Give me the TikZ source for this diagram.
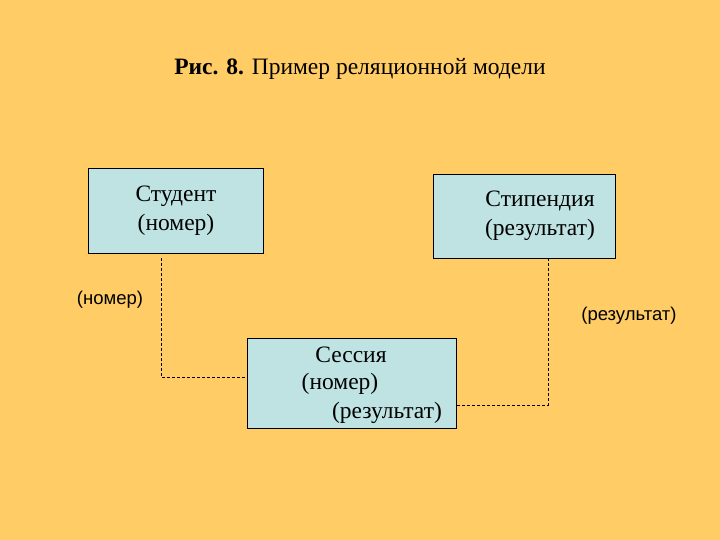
\documentclass[tikz,border=0pt]{standalone}
\usepackage{fontspec}
\setmainfont{Liberation Serif}
\newfontfamily\lsans{Liberation Sans}
\begin{document}
\begin{tikzpicture}[x=1pt,y=-1pt,
  ent/.style={draw=black,fill=boxc,line width=0.6pt},
  lnk/.style={draw=black,dashed,dash pattern=on 3pt off 2pt,line width=0.6pt},
  ttl/.style={font=\fontsize{23.5}{29}\selectfont},
  lbl/.style={font=\lsans\fontsize{18.5}{22}\selectfont}]
\definecolor{bgc}{HTML}{FFCC66}
\definecolor{boxc}{HTML}{BFE3E3}
\fill[bgc] (0,0) rectangle (720,540);
\useasboundingbox (0,0) rectangle (720,540);
\node[ttl] (title) at (360,69) {\textbf{Рис. 8.} Пример реляционной модели};
\draw[ent] (88,168) rectangle (263,253);
\node[ttl,align=center] (stud) at (176,211) {Студент\\(номер)};
\draw[ent] (433,174) rectangle (615,258);
\node[ttl,align=center] (stip) at (540,216) {Стипендия\\(результат)};
\draw[ent] (247,338) rectangle (456,428);
\node[ttl] (s1) at (351,355) {Сессия};
\node[ttl] (s2) at (340,384) {(номер)};
\node[ttl] (s3) at (387,413) {(результат)};
\coordinate (a1) at (161,258); \coordinate (a2) at (161,377); \coordinate (a3) at (247,377);
\coordinate (b1) at (548,258); \coordinate (b2) at (548,405); \coordinate (b3) at (456,405);
\draw[lnk] (a1) -- (a2) -- (a3);
\draw[lnk] (b1) -- (b2) -- (b3);
\node[lbl] (l1) at (110,300) {(номер)};
\node[lbl] (l2) at (629,316) {(результат)};
\end{tikzpicture}
\end{document}
